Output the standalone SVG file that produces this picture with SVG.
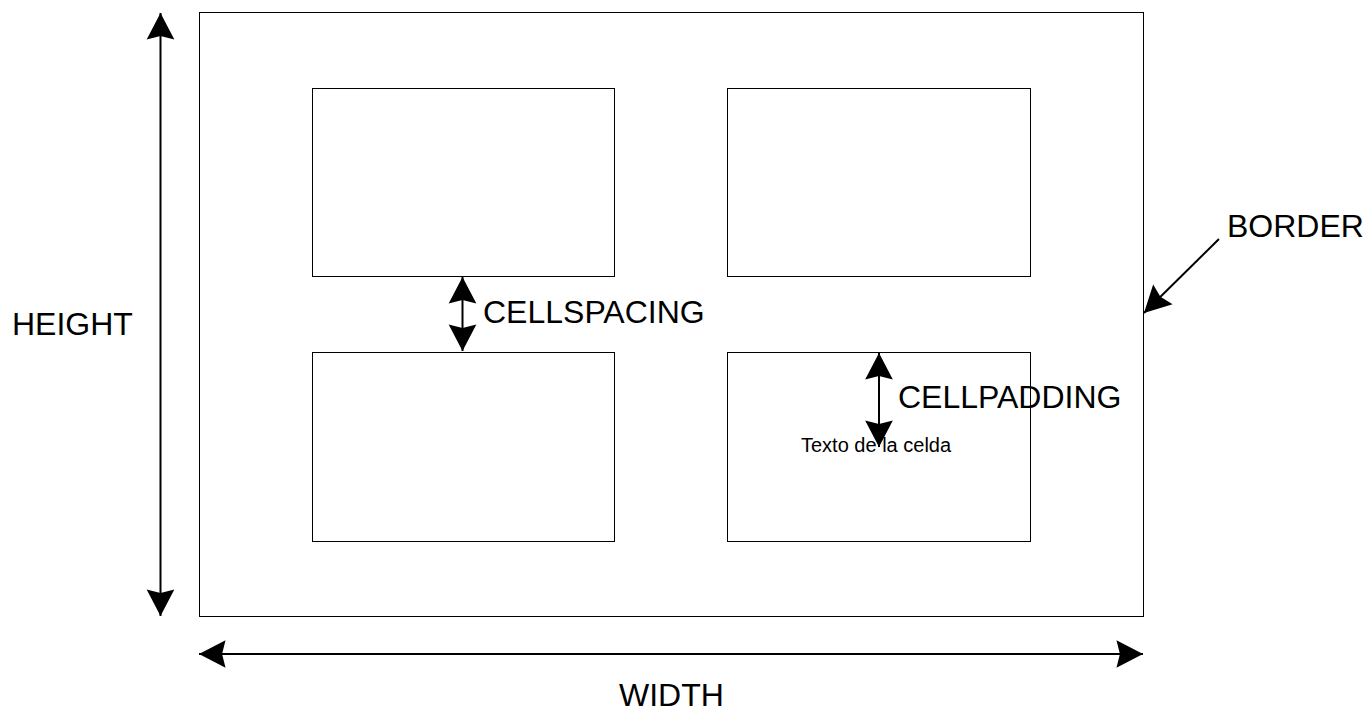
<svg xmlns="http://www.w3.org/2000/svg" width="1364" height="714" viewBox="0 0 1364 714">
<defs>
<style>
.box{fill:#fff;stroke:#000;stroke-width:1}
.shaft{fill:none;stroke:#000;stroke-width:2}
.lbl{font-family:"Liberation Sans",Arial,sans-serif;font-size:32px;fill:#000}
.small{font-family:"Liberation Sans",Arial,sans-serif;font-size:20px;fill:#000}
</style>
<marker id="ah" markerUnits="userSpaceOnUse" markerWidth="30" markerHeight="30" viewBox="-24 -13 26 26" refX="0" refY="0" orient="auto-start-reverse">
<path d="M0,0 L-23,-12 L-20,0 L-23,12 Z" fill="#000"/>
</marker>
</defs>
<rect width="1364" height="714" fill="#fff"/>
<g id="table">
<rect class="box" x="199.5" y="12.5" width="944" height="604"/>
</g>
<g id="cell-tl"><rect class="box" x="312.5" y="88.5" width="302" height="188"/></g>
<g id="cell-tr"><rect class="box" x="727.5" y="88.5" width="303" height="188"/></g>
<g id="cell-bl"><rect class="box" x="312.5" y="352.5" width="302" height="189"/></g>
<g id="cell-br"><rect class="box" x="727.5" y="352.5" width="303" height="189"/>
<text class="small" x="801" y="452">Texto de la celda</text></g>
<g id="connectors">
<line class="shaft" x1="160.5" y1="13" x2="160.5" y2="616" marker-start="url(#ah)" marker-end="url(#ah)"/>
<line class="shaft" x1="199" y1="654" x2="1143" y2="654" marker-start="url(#ah)" marker-end="url(#ah)"/>
<line class="shaft" x1="462.5" y1="277" x2="462.5" y2="351" marker-start="url(#ah)" marker-end="url(#ah)"/>
<line class="shaft" x1="879" y1="353" x2="879" y2="447" marker-start="url(#ah)" marker-end="url(#ah)"/>
<line class="shaft" x1="1219" y1="239" x2="1144" y2="313" marker-end="url(#ah)"/>
</g>
<g id="labels">
<text class="lbl" x="12" y="335">HEIGHT</text>
<text class="lbl" x="619" y="706">WIDTH</text>
<text class="lbl" x="483" y="323">CELLSPACING</text>
<text class="lbl" x="898" y="408">CELLPADDING</text>
<text class="lbl" x="1227" y="237">BORDER</text>
</g>
</svg>
